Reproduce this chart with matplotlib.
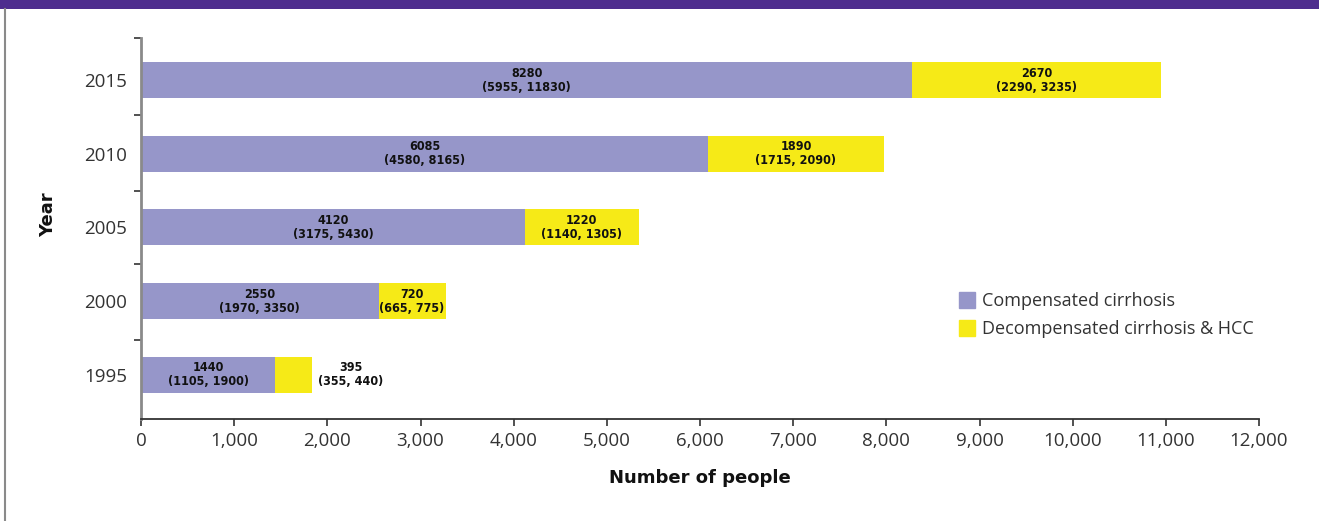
import matplotlib
matplotlib.use("Agg")
import matplotlib.pyplot as plt
from matplotlib.lines import Line2D
from matplotlib.patches import Rectangle

years = ["1995", "2000", "2005", "2010", "2015"]
compensated = [1440, 2550, 4120, 6085, 8280]
compensated_ci = ["(1105, 1900)", "(1970, 3350)", "(3175, 5430)", "(4580, 8165)", "(5955, 11830)"]
decompensated = [395, 720, 1220, 1890, 2670]
decompensated_ci = ["(355, 440)", "(665, 775)", "(1140, 1305)", "(1715, 2090)", "(2290, 3235)"]
x_ticks = list(range(0, 12001, 1000))
x_tick_labels = ["0", "1,000", "2,000", "3,000", "4,000", "5,000", "6,000",
                 "7,000", "8,000", "9,000", "10,000", "11,000", "12,000"]
series_names = ["Compensated cirrhosis", "Decompensated cirrhosis & HCC"]

COL_COMP = "#9696c9"
COL_DECOMP = "#f6ea17"
TXT = "#333333"
SANS = ["Open Sans", "DejaVu Sans"]

fig = plt.figure(figsize=(13.19, 5.21), dpi=100)
ax = fig.add_axes([141 / 1319, 1 - 419 / 521, (1259 - 141) / 1319, (419 - 38) / 521])

pos = list(range(len(years)))
ax.barh(pos, compensated, height=0.49, color=COL_COMP, label=series_names[0])
ax.barh(pos, decompensated, left=compensated, height=0.49, color=COL_DECOMP,
        label=series_names[1])

label_kw = dict(va="center", fontsize=9, fontweight="bold", family="DejaVu Sans",
                fontstretch="condensed", linespacing=1.1, color="#111111")

# Value labels with confidence intervals
for i in pos:
    ax.text(compensated[i] / 2, i, f"{compensated[i]}\n{compensated_ci[i]}",
            ha="center", **label_kw)
    if decompensated[i] >= 600:
        ax.text(compensated[i] + decompensated[i] / 2, i,
                f"{decompensated[i]}\n{decompensated_ci[i]}", ha="center", **label_kw)
    else:
        ax.text(compensated[i] + decompensated[i] + 70, i,
                f"{decompensated[i]}\n{decompensated_ci[i]}", ha="left",
                multialignment="center", **label_kw)

ax.set_xlim(0, 12000)
ax.set_ylim(-0.6, 4.57)
ax.set_xticks(x_ticks)
ax.set_xticklabels(x_tick_labels, family=SANS, fontsize=13.5, color=TXT,
                   fontweight="normal")
ax.set_yticks(pos)
ax.set_yticklabels(years, family=SANS, fontsize=13.5, color=TXT,
                   fontweight="normal")
ax.tick_params(axis="y", which="major", length=0, pad=10)
ax.set_yticks([0.47, 1.5, 2.5, 3.52, 4.57], minor=True)
ax.tick_params(axis="y", which="minor", length=5, width=1.2, color="#333333")
ax.tick_params(axis="x", length=5, width=1.2, color="#333333", pad=4)

for s in ["top", "right"]:
    ax.spines[s].set_visible(False)
ax.spines["left"].set_color("#8a8a8a")
ax.spines["left"].set_linewidth(2)
ax.spines["bottom"].set_color("#333333")
ax.spines["bottom"].set_linewidth(1.3)

fig.text(48 / 1319, 1 - 215 / 521, "Year", rotation=90, ha="center", va="center",
         fontsize=13, fontweight="bold", color="#111111")
fig.text(700 / 1319, 1 - 478 / 521, "Number of people", ha="center", va="center",
         fontsize=13, fontweight="bold", color="#111111")

handles = [Line2D([], [], marker="s", linestyle="none", markersize=11,
                  markerfacecolor=c, markeredgecolor=c) for c in (COL_COMP, COL_DECOMP)]
leg = fig.legend(handles, series_names, loc="upper left",
                 bbox_to_anchor=(956 / 1319, 1 - 292 / 521), frameon=False,
                 prop={"family": SANS, "size": 13, "weight": "normal"},
                 handletextpad=0.25, handlelength=1.2, labelspacing=0.55,
                 borderaxespad=0, borderpad=0)
for t in leg.get_texts():
    t.set_color(TXT)

# Page furniture: header band and left rule
fig.patches.append(Rectangle((0, 1 - 9 / 521), 1, 9 / 521, transform=fig.transFigure,
                             facecolor="#4e2d8e", edgecolor="none"))
fig.lines.append(Line2D([5 / 1319, 5 / 1319], [0, 1 - 9 / 521], transform=fig.transFigure,
                        color="#8a8a8a", linewidth=1.5))

fig.savefig("out.png", dpi=100)
